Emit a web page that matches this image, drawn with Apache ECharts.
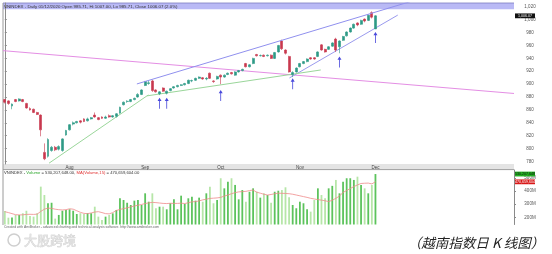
<!DOCTYPE html>
<html><head><meta charset="utf-8">
<script src="https://cdn.jsdelivr.net/npm/echarts@6/dist/echarts.min.js"></script>
<style>html,body{margin:0;padding:0;background:#fff}#c{width:552px;height:254px}</style>
</head><body><div id="c"></div>
<script>
// ---------- data ----------
const dates = [
'2020-07-08','2020-07-09','2020-07-10','2020-07-13','2020-07-14','2020-07-15','2020-07-16','2020-07-17','2020-07-20','2020-07-21','2020-07-22','2020-07-23','2020-07-24','2020-07-27','2020-07-28','2020-07-29','2020-07-30','2020-07-31',
'2020-08-03','2020-08-04','2020-08-05','2020-08-06','2020-08-07','2020-08-10','2020-08-11','2020-08-12','2020-08-13','2020-08-14','2020-08-17','2020-08-18','2020-08-19','2020-08-20','2020-08-21','2020-08-24','2020-08-25','2020-08-26','2020-08-27','2020-08-28','2020-08-31',
'2020-09-01','2020-09-03','2020-09-04','2020-09-07','2020-09-08','2020-09-09','2020-09-10','2020-09-11','2020-09-14','2020-09-15','2020-09-16','2020-09-17','2020-09-18','2020-09-21','2020-09-22','2020-09-23','2020-09-24','2020-09-25','2020-09-28','2020-09-29','2020-09-30',
'2020-10-01','2020-10-02','2020-10-05','2020-10-06','2020-10-07','2020-10-08','2020-10-09','2020-10-12','2020-10-13','2020-10-14','2020-10-15','2020-10-16','2020-10-19','2020-10-20','2020-10-21','2020-10-22','2020-10-23','2020-10-26','2020-10-27','2020-10-28','2020-10-29','2020-10-30',
'2020-11-02','2020-11-03','2020-11-04','2020-11-05','2020-11-06','2020-11-09','2020-11-10','2020-11-11','2020-11-12','2020-11-13','2020-11-16','2020-11-17','2020-11-18','2020-11-19','2020-11-20','2020-11-23','2020-11-24','2020-11-25','2020-11-26','2020-11-27','2020-11-30',
'2020-12-01'];
const openP  = [876,874,866,876,874,876,870,862,861,856,852,794,788,797,802,799,797,821,829,838,840,843,846,843,846,852,848,849,847,851,849,850,855,868,873,873,876,880,884,898,901,905,891,885,894,886,890,894,896,898,899,901,905,906,909,910,908,917,905,908,914,911,915,918,914,919,921,932,927,932,946,944,945,944,945,940,950,967,953,943,915,919,927,932,935,941,941,943,961,954,954,959,970,958,968,975,981,987,995,993,1001,999,1011,985.71];
const closeP = [872,870,869,873,877,873,863,860,856,853,829,784,814,802,798,803,815,828,837,840,842,841,842,846,848,849,845,847,849,849,851,854,864,872,873.5,876,878,884,891,904,902,890,888,888,889,889,893,896,898,899,901,906,905.5,909,911,908,909,909,904,912,911,914,917,916,919,921,923,927,930,940,944,944.5,943,945,940,949,960,955,948,919,918,925,932,935,939,939,939,950,953,950,958,964,953,967,974,981,987,993,992,999,998,1007,1004,1006.07];
const lowP   = [870,868,861,872,873,872,862,859,855,852,819,782,786,795,796,797,795,820,828,836,839,839,841,842,845,848,844,846,846,848,848,848,854,867,871,872,875,879,883,897,899,888,887,883,888,884,889,893,895,897,898,900,903,905,908,907,906,908,902,907,900,910,914,915,913,918,920,926,926,931,943,943,942,943,939,939,949,953,946,918,911,918,926,931,934,938,938,942,952,949,953,958,950,948,967,974,980,986,990,992,996,998,1002,985.71];
const highP  = [877,875,870,877,878,877,871,864,862,857,853,808,816,804,804,805,816,829,838,842,843,844,847,848,849,856,849,850,851,853,852,855,865,873,875,877,879,886,892,905,905,907,892,889,895,890,894,897,899,900,902,907,907,910,912,911,911,918,906,913,915,915,918,919,920,922,924,933,931,941,947,946,946,946,946,950,961,969,954,944,920,926,933,936,940,942,942,951,962,955,959,965,972,968,975,982,988,994,996,1000,1002,1008,1013,1007];
// volume in millions
const volumeM = [248,197,199,218,218,231,250,210,205,231,434,370,307,311,190,218,250,255,261,250,225,231,225,231,231,281,205,179,205,218,230,256,345,332,311,294,327,332,294,383,319,383,269,281,281,261,307,337,261,365,302,345,357,327,350,
319,383,434,307,332,498,421,472,498,447,337,408,319,395,421,395,350,383,370,311,395,403,408,429,353,294,269,319,307,261,243,332,421,370,345,421,440,485,383,472,498,498,485,510,447,421,383,447,530.21];
const volMA15 = [243,236,228,220,218,219,222,223,222,224,245,262,270,268,262,258,256,258,265,262,250,238,230,228,233,240,243,236,228,226,236,252,260,266,272,280,286,292,298,305,310,314,312,309,306,305,307,306,306,308,305,311,318,320,325,333,338,344,346,348,352,362,370,380,388,394,396,398,404,408,392,384,376,370,374,380,384,383,382,380,376,370,364,358,352,345,340,335,331,326,320,330,345,362,390,404,420,434,447,458,460,461,455,470.66];
const priceTicks = [780,800,820,840,860,880,900,920,940,960,980,1000,1020];
const volTicks = [200,300,400,500];
const monthTicks = {'2020-08-03':'Aug','2020-09-01':'Sep','2020-10-01':'Oct','2020-11-02':'Nov','2020-12-01':'Dec'};
const arrowIdx = [43,45,60,80,93,103];
const arrowTip = [879,879,891,909,943,981];
// trend lines: [bar index, price]
const trendPink   = [[-0.5,952],[141.5,885.5]];
const trendUpper  = [[36.7,900.3],[113,1028.7]];
const trendLower  = [[79.1,909.6],[109.2,1007.2]];
const trendGreen1 = [[12.3,777.3],[39.9,883.3]];
const trendGreen2 = [[39.5,881.8],[87.8,922]];
const blankBars = 38;
const priceTitle = 'VNINDEX - Daily 01/12/2020 Open 985.71, Hi 1007.00, Lo 985.71, Close 1006.07 (2.0%)';
const volTitle = '{k|VNINDEX - }{g|Volume}{k| = 530,207,648.00, }{r|MA(Volume,15)}{k| = 470,659,604.00}';
const lastCloseLabel = '1,006.07';
const lastVolLabel = '530,207,648';
const lastMALabel = '470,659,604';

// ---------- build ----------
const cats = dates.slice();
for (let k = 0; k < blankBars; k++) cats.push('pad' + k);
const nCats = cats.length;
const candle = dates.map((d, i) => [openP[i], closeP[i], lowP[i], highP[i]]);
const UP = '#2e9a86', DN = '#c8384e';
const volData = volumeM.map((v, i) => ({
  value: v,
  itemStyle: { color: closeP[i] >= openP[i] ? '#5cc35c' : '#b6e6a8' }
}));
const FONT = 'Liberation Sans, Arial, sans-serif';

const chart = echarts.init(document.getElementById('c'), null, {renderer: 'canvas'});
const G0 = {left: 3, top: 3, width: 511, height: 161};
const G1 = {left: 3, top: 170, width: 511, height: 54.5};

const option = {
  animation: false,
  backgroundColor: '#fff',
  grid: [Object.assign({}, G0), Object.assign({}, G1)],
  xAxis: [
    {type: 'category', gridIndex: 0, data: cats, boundaryGap: true,
     axisLine: {show: false}, axisTick: {show: false}, splitLine: {show: false},
     axisLabel: {margin: 1, fontSize: 4.5, color: '#444', fontFamily: FONT,
       interval: (i, v) => monthTicks[v] !== undefined,
       formatter: v => monthTicks[v] || ''}},
    {type: 'category', gridIndex: 1, data: cats, boundaryGap: true,
     axisLine: {show: false}, axisTick: {show: false}, axisLabel: {show: false}, splitLine: {show: false}},
    {type: 'value', gridIndex: 0, min: -0.5, max: nCats - 0.5, show: false}
  ],
  yAxis: [
    {type: 'value', gridIndex: 0, position: 'right', min: 776, max: 1026, scale: true,
     axisLine: {show: true, lineStyle: {color: '#8a8a8a', width: 1}},
     axisTick: {show: true, length: 2, customValues: priceTicks, lineStyle: {color: '#8a8a8a'}},
     splitLine: {show: false},
     axisLabel: {customValues: priceTicks, margin: 16, align: 'center', fontSize: 4.5, color: '#555', fontFamily: FONT,
       formatter: v => v.toLocaleString('en-US')}},
    {type: 'value', gridIndex: 1, position: 'right', min: 145, max: 561,
     axisLine: {show: true, lineStyle: {color: '#8a8a8a', width: 1}},
     axisTick: {show: true, length: 2, customValues: volTicks, lineStyle: {color: '#8a8a8a'}},
     splitLine: {show: false},
     axisLabel: {customValues: volTicks, margin: 16, align: 'center', fontSize: 4.5, color: '#555', fontFamily: FONT,
       formatter: v => v + 'M'}}
  ],
  series: [
    {type: 'line', xAxisIndex: 2, yAxisIndex: 0, data: trendPink, symbol: 'none', silent: true, z: 1,
     lineStyle: {color: '#e48ee4', width: 1}},
    {type: 'line', xAxisIndex: 2, yAxisIndex: 0, data: trendUpper, symbol: 'none', silent: true, z: 5,
     lineStyle: {color: '#9090ee', width: 1}},
    {type: 'line', xAxisIndex: 2, yAxisIndex: 0, data: trendLower, symbol: 'none', silent: true, z: 1,
     lineStyle: {color: '#9a9aee', width: 1}},
    {type: 'line', xAxisIndex: 2, yAxisIndex: 0, data: trendGreen1, symbol: 'none', silent: true, z: 1,
     lineStyle: {color: '#9ad69a', width: 1}},
    {type: 'line', xAxisIndex: 2, yAxisIndex: 0, data: trendGreen2, symbol: 'none', silent: true, z: 1,
     lineStyle: {color: '#9ad69a', width: 1}},
    {type: 'candlestick', xAxisIndex: 0, yAxisIndex: 0, data: candle, barWidth: 2.4, z: 3,
     itemStyle: {color: UP, color0: DN, borderColor: UP, borderColor0: DN, borderWidth: 0.6}},
    {type: 'scatter', xAxisIndex: 0, yAxisIndex: 0, z: 4, silent: true,
     data: arrowIdx.map((b, k) => [b, arrowTip[k]]),
     symbol: 'path://M5,0 L10,9 L6,9 L6,30 L4,30 L4,9 L0,9 Z', symbolSize: [4, 11], symbolOffset: [0, '50%'],
     itemStyle: {color: '#1c1cd2'}},
    {type: 'bar', xAxisIndex: 1, yAxisIndex: 1, data: volData, barWidth: 1.8, z: 2},
    {type: 'line', xAxisIndex: 1, yAxisIndex: 1, data: volMA15, symbol: 'none', z: 3, silent: true,
     lineStyle: {color: '#ef8a8a', width: 0.8}}
  ]
};
chart.setOption(option);

const lastI = dates.length - 1;
const yClose = chart.convertToPixel({yAxisIndex: 0}, closeP[lastI]);
const yVol = chart.convertToPixel({yAxisIndex: 1}, volumeM[lastI]);
const yMA = chart.convertToPixel({yAxisIndex: 1}, volMA15[lastI]);

const boxes = (y, txt, bg, fg) => ([
  {type: 'rect', z: 20, shape: {x: 515, y: y - 2.4, width: 20, height: 4.8}, style: {fill: bg}},
  {type: 'text', z: 21, x: 525, y: y, style: {text: txt, fill: fg, fontSize: 3.6, fontFamily: FONT, align: 'center', verticalAlign: 'middle'}}
]);

chart.setOption({graphic: [
  {type: 'rect', z: 0, shape: {x: 3, y: 3, width: 511, height: 6.3}, style: {fill: '#b9b9f5'}},
  {type: 'line', z: 0, shape: {x1: 3, y1: 3, x2: 514, y2: 3}, style: {stroke: '#7b7bc0', lineWidth: 0.8}},
  {type: 'text', z: 10, x: 4, y: 6.3, style: {text: priceTitle, fill: '#333', fontSize: 4.4, fontFamily: FONT, verticalAlign: 'middle'}},
  {type: 'rect', z: 0, shape: {x: 3, y: 164, width: 511, height: 5.5}, style: {fill: '#e4e4e4'}},
  {type: 'line', z: 0, shape: {x1: 3, y1: 169.6, x2: 514, y2: 169.6}, style: {stroke: '#8a8a8a', lineWidth: 0.8}},
  {type: 'line', z: 0, shape: {x1: 3, y1: 3, x2: 3, y2: 225}, style: {stroke: '#9a9a9a', lineWidth: 1}},
  {type: 'text', z: 10, x: 4, y: 172.8, style: {fontSize: 4.2, fontFamily: FONT, verticalAlign: 'middle', text: volTitle,
    rich: {k: {fill: '#333', fontSize: 4.2}, g: {fill: '#2aa52a', fontSize: 4.2}, r: {fill: '#e03030', fontSize: 4.2}}}},
  {type: 'text', z: 10, x: 4, y: 227, style: {text: 'Created with AmiBroker - advanced charting and technical analysis software. http://www.amibroker.com',
    fill: '#666', fontSize: 3.4, fontFamily: FONT, verticalAlign: 'middle'}},
  {type: 'circle', z: 10, shape: {cx: 14, cy: 240, r: 6}, style: {fill: 'none', stroke: '#cfcfcf', lineWidth: 1.5}},
  {type: 'text', z: 10, x: 24, y: 240, style: {text: '大股跨境', fill: '#e2e2e2', stroke: '#c4c4c4', lineWidth: 0.5,
    fontSize: 13, fontFamily: 'Noto Sans CJK SC', verticalAlign: 'middle'}},
  {type: 'text', z: 10, x: 476, y: 243, style: {text: '（越南指数日 K 线图）', fill: '#222', fontSize: 13.5,
    fontStyle: 'italic', fontFamily: 'Noto Sans CJK SC', align: 'center', verticalAlign: 'middle'}}
].concat(
  boxes(yClose, lastCloseLabel, '#111', '#fff'),
  boxes(yVol, lastVolLabel, '#22b022', '#111'),
  boxes(yMA, lastMALabel, '#d81818', '#fff')
)});
</script>
</body></html>
